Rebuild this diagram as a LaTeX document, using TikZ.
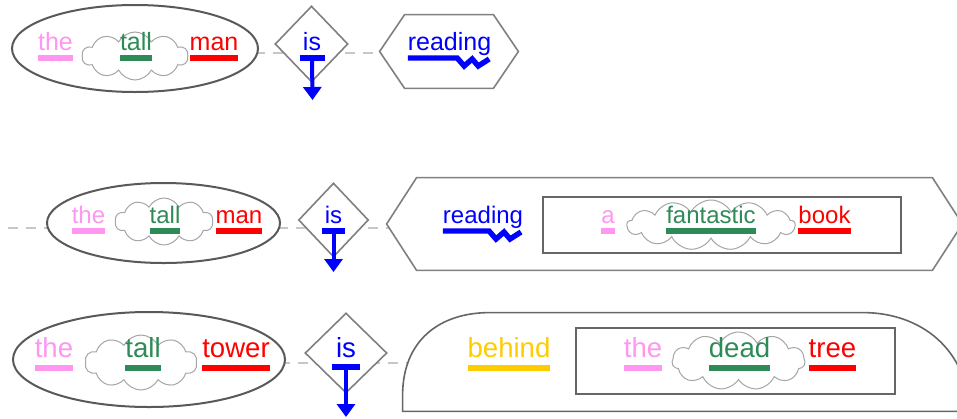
\documentclass[tikz,border=0pt]{standalone}
\usepackage{fontspec}
\setmainfont{Liberation Sans}
\usetikzlibrary{shapes.geometric,shapes.symbols,arrows.meta}
\definecolor{pinkw}{RGB}{255,150,240}
\definecolor{greenw}{RGB}{46,139,87}
\definecolor{redw}{RGB}{255,0,0}
\definecolor{bluew}{RGB}{0,0,255}
\definecolor{goldw}{RGB}{255,204,0}
\tikzset
  {word/.style={inner sep=0pt, outer sep=0pt, anchor=base, text=#1},
   ulbar/.style={draw=#1, line width=2.7pt},
   rowline/.style={draw=black!22, line width=0.7pt, dash pattern=on 5pt off 4pt},
   npshape/.style={ellipse, draw=black!65, fill=white, line width=1pt, inner sep=0pt},
   adjcloud/.style={cloud, cloud puffs=#1, cloud puff arc=125, cloud ignores aspect,
                    draw=black!35, fill=white, line width=0.5pt, inner sep=0pt},
   adjcloud/.default={10},
   copula/.style={diamond, draw=black!50, fill=white, line width=0.8pt, inner sep=0pt},
   hexbox/.style={rectangle, inner sep=0pt},
   hexframe/.style={draw=black!50, fill=white, line width=0.8pt},
   nbox/.style={rectangle, draw=black!60, fill=white, line width=0.8pt, inner sep=0pt},
   isarrow/.style={draw=bluew, line width=2pt, -{Triangle[width=9pt,length=6.5pt]}}}
\newcommand{\hexout}[2]{
  \filldraw[hexframe] (#1.west) -- ([xshift=#2]#1.north west)
    -- ([xshift=-#2]#1.north east) -- (#1.east)
    -- ([xshift=-#2]#1.south east) -- ([xshift=#2]#1.south west) -- cycle;
}
\newcommand{\zigul}[2]{
  \draw[ulbar=bluew, line join=miter] ([yshift=-#2]#1.base west)
    -- ([xshift=-17pt,yshift=-#2]#1.base east)
    -- ++(3.5pt,-4pt) -- ++(4pt,3.5pt) -- ++(3pt,-3.5pt) -- ++(5.5pt,3.5pt);
}
\newcommand{\isbar}[4]{
  \draw[ulbar=bluew] ([xshift=-#2,yshift=-#3]#1.base) -- ([xshift=#2,yshift=-#3]#1.base);
  \draw[isarrow] ([yshift=-#3]#1.base) -- (#4);
}

\begin{document}
\begin{tikzpicture}[x=0.5pt,y=-0.5pt]
\useasboundingbox (0,0) rectangle (957,418);

% row 1: the tall man is reading
\begin{scope}[font=\fontsize{12.5}{15}\selectfont]
 \coordinate (l1a) at (255,53);
 \coordinate (l1b) at (524,53);
 \draw[rowline] (l1a) -- (l1b);
 \node[npshape, minimum width=123pt, minimum height=43.5pt] (np1) at (135,48.5) {};
 \node[adjcloud, minimum width=53pt, minimum height=24pt] (adj1) at (135,56) {};
 \node[copula, minimum width=36.5pt, minimum height=38pt] (cop1) at (311.5,44) {};
 \node[hexbox, minimum width=69pt, minimum height=36.5pt] (vp1) at (449,51.5) {};
 \hexout{vp1}{12.5pt}
 \node[word=pinkw] (the1) at (55.5,50) {the};
 \node[word=greenw] (tall1) at (136,50) {tall};
 \node[word=redw] (man1) at (214,50) {man};
 \node[word=bluew] (is1) at (312,50) {is};
 \node[word=bluew] (read1) at (449.5,50) {reading};
 \foreach \w/\c in {the1/pinkw,tall1/greenw,man1/redw}
   \draw[ulbar=\c] ([yshift=-4pt]\w.base west) -- ([yshift=-4pt]\w.base east);
 \zigul{read1}{4pt}
 \coordinate (tip1) at (312.5,100);
 \isbar{is1}{6.25pt}{4pt}{tip1}
\end{scope}

% row 2: the tall man is reading a fantastic book
\begin{scope}[font=\fontsize{12}{14}\selectfont]
 \coordinate (l2a) at (8,228);
 \coordinate (l2b) at (400,228);
 \draw[rowline] (l2a) -- (l2b);
 \node[npshape, minimum width=116.5pt, minimum height=40pt] (np2) at (163.5,223) {};
 \node[adjcloud, minimum width=49pt, minimum height=23.5pt] (adj2) at (164,221.5) {};
 \node[copula, minimum width=35pt, minimum height=37pt] (cop2) at (333.5,220) {};
 \node[hexbox, minimum width=287.5pt, minimum height=46pt] (vp2) at (674.5,224) {};
 \hexout{vp2}{15pt}
 \node[nbox, minimum width=179pt, minimum height=28pt] (obj2) at (722,225) {};
 \node[adjcloud=13, minimum width=84pt, minimum height=25pt] (adj2b) at (711,225) {};
 \node[word=pinkw] (the2) at (88.5,223) {the};
 \node[word=greenw] (tall2) at (165,223) {tall};
 \node[word=redw] (man2) at (239,223) {man};
 \node[word=bluew] (is2) at (333.5,223) {is};
 \node[word=bluew] (read2) at (483,223) {reading};
 \node[word=pinkw] (a2) at (608,223) {a};
 \node[word=greenw] (fant2) at (711,223) {fantastic};
 \node[word=redw] (book2) at (824.5,223) {book};
 \foreach \w/\c in {the2/pinkw,tall2/greenw,man2/redw,a2/pinkw,fant2/greenw,book2/redw}
   \draw[ulbar=\c] ([yshift=-4pt]\w.base west) -- ([yshift=-4pt]\w.base east);
 \zigul{read2}{4pt}
 \coordinate (tip2) at (333.5,272);
 \isbar{is2}{5.75pt}{4pt}{tip2}
\end{scope}

% row 3: the tall tower is behind the dead tree
\begin{scope}[font=\fontsize{13.8}{16}\selectfont]
 \coordinate (l3a) at (280,363);
 \coordinate (l3b) at (412,363);
 \draw[rowline] (l3a) -- (l3b);
 \node[npshape, minimum width=136pt, minimum height=47.5pt] (np3) at (149,359.5) {};
 \node[adjcloud, minimum width=56pt, minimum height=27.5pt] (adj3) at (141,362.5) {};
 \node[copula, minimum width=41pt, minimum height=40pt] (cop3) at (346,353) {};
 \node[hexbox, minimum width=282.5pt, minimum height=49pt] (pp3) at (685.5,362) {};
 \filldraw[hexframe, draw=black!60] (pp3.south west) -- ([yshift=8pt]pp3.south west)
    .. controls ([yshift=35.5pt]pp3.south west) and ([xshift=18.5pt]pp3.north west)
    .. ([xshift=43.5pt]pp3.north west) -- ([xshift=-52.5pt]pp3.north east)
    .. controls ([xshift=-24pt]pp3.north east) and ([yshift=-18.5pt]pp3.north east)
    .. (pp3.south east) -- cycle;
 \node[nbox, minimum width=159.5pt, minimum height=33pt] (obj3) at (735.5,361) {};
 \node[adjcloud=11, minimum width=66.5pt, minimum height=29pt] (adj3b) at (738.5,361) {};
 \node[word=pinkw] (the3) at (54,357) {the};
 \node[word=greenw] (tall3) at (143,357) {tall};
 \node[word=redw] (tower3) at (236,357) {tower};
 \node[word=bluew] (is3) at (346,357) {is};
 \node[word=goldw] (behind3) at (509,357) {behind};
 \node[word=pinkw] (the3b) at (643,357) {the};
 \node[word=greenw] (dead3) at (739.5,357) {dead};
 \node[word=redw] (tree3) at (832.5,357) {tree};
 \foreach \w/\c in {the3/pinkw,tall3/greenw,tower3/redw,behind3/goldw,the3b/pinkw,dead3/greenw,tree3/redw}
   \draw[ulbar=\c] ([yshift=-5.5pt]\w.base west) -- ([yshift=-5.5pt]\w.base east);
 \coordinate (tip3) at (346,417);
 \isbar{is3}{7pt}{5pt}{tip3}
\end{scope}
\end{tikzpicture}
\end{document}
